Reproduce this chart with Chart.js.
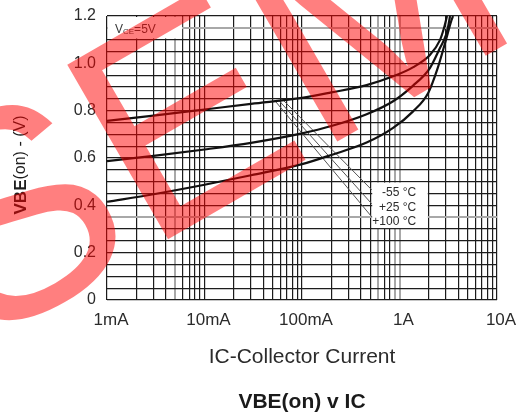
<!DOCTYPE html>
<html>
<head>
<meta charset="utf-8">
<script src="https://cdn.jsdelivr.net/npm/chart.js@4.4.1/dist/chart.umd.min.js"></script>
<style>
html,body{margin:0;padding:0;background:#fff;}
#wrap{width:518px;height:417px;position:relative;}
</style>
</head>
<body>
<div id="wrap"><canvas id="c"></canvas></div>
<script>
// Collector current (A) against base-emitter on-voltage (V), one pair per temperature
const currentsM55 = [0.001, 0.003, 0.01, 0.03, 0.1, 0.2, 0.46, 0.86, 1.37, 2.05, 2.6, 2.86, 3.07];
const vbeM55      = [0.757, 0.779, 0.805, 0.829, 0.854, 0.877, 0.908, 0.945, 0.983, 1.035, 1.098, 1.149, 1.2];
const currents25  = [0.001, 0.003, 0.01, 0.03, 0.1, 0.2, 0.46, 0.86, 1.37, 2.05, 2.6, 3.0, 3.17, 3.3];
const vbe25       = [0.587, 0.609, 0.636, 0.664, 0.704, 0.735, 0.785, 0.84, 0.905, 0.98, 1.065, 1.12, 1.16, 1.2];
const currents100 = [0.001, 0.003, 0.01, 0.03, 0.1, 0.2, 0.46, 0.86, 1.37, 1.97, 2.43, 2.93, 3.42, 3.54];
const vbe100      = [0.415, 0.447, 0.487, 0.527, 0.574, 0.613, 0.665, 0.727, 0.796, 0.875, 0.972, 1.085, 1.183, 1.2];

// Curve names and the leader lines running from the curves to their names
const seriesNames = ['-55 °C', '+25 °C', '+100 °C'];
const leaderStartI = [0.064, 0.058, 0.053];
const leaderStartV = [0.845, 0.843, 0.841];
const leaderEndI   = [0.52, 0.52, 0.52];
const leaderEndV   = [0.465, 0.406, 0.351];
const nameAnchorI  = 1.48;
const nameAnchorV  = [0.452, 0.391, 0.331];

// Axis ticks
const xTickValues = [0.001, 0.01, 0.1, 1, 10];
const xTickLabels = ['1mA', '10mA', '100mA', '1A', '10A'];
const yTickValues = [0, 0.2, 0.4, 0.6, 0.8, 1.0, 1.2];
const yTickLabels = ['0', '0.2', '0.4', '0.6', '0.8', '1.0', '1.2'];

// Grid: 1..9 per decade on the current axis, 0.05 V steps on the voltage axis
const xGrid = [];
for (let e = -3; e <= 0; e++) for (let m = 1; m <= 9; m++) xGrid.push(+(m * Math.pow(10, e)).toPrecision(6));
xGrid.push(10);
const yGrid = [];
for (let k = 0; k <= 24; k++) yGrid.push(+(k * 0.05).toFixed(2));
const xGridLight = [0.005, 0.6, 0.9, 1];
const yGridLight = [0.35, 1.15];

const FONT = '"Liberation Sans", Arial, Helvetica, sans-serif';
const near = (a, b) => Math.abs(a - b) < 1e-9 * Math.max(1, Math.abs(b));
const zip = (xs, ys) => xs.map((x, i) => ({ x, y: ys[i] }));

const curveStyle = {
  borderColor: '#111', borderWidth: 2.2, pointRadius: 0, fill: false,
  cubicInterpolationMode: 'monotone'
};
const leaderStyle = { borderColor: '#555', borderWidth: 1, pointRadius: 0, fill: false, tension: 0 };

const datasets = [
  Object.assign({ label: seriesNames[0], data: zip(currentsM55, vbeM55) }, curveStyle),
  Object.assign({ label: seriesNames[1], data: zip(currents25, vbe25) }, curveStyle),
  Object.assign({ label: seriesNames[2], data: zip(currents100, vbe100) }, curveStyle)
];
seriesNames.forEach((n, i) => {
  datasets.push(Object.assign({
    label: n + ' leader',
    data: [{ x: leaderStartI[i], y: leaderStartV[i] }, { x: leaderEndI[i], y: leaderEndV[i] }]
  }, leaderStyle));
});

const decorations = {
  id: 'decorations',
  beforeDatasetsDraw(chart) {
    const { ctx, chartArea: a, scales: { x, y } } = chart;
    ctx.save();
    ctx.fillStyle = '#fff';
    // clear area behind the test-condition note
    const r = x.getPixelForValue(0.0059);
    const b = y.getPixelForValue(1.105);
    ctx.fillRect(a.left + 1, a.top + 1, r - a.left - 1, b - a.top - 1);
    // clear area behind the curve names
    const l2 = x.getPixelForValue(0.525), r2 = x.getPixelForValue(1.95);
    const t2 = y.getPixelForValue(0.496), b2 = y.getPixelForValue(0.304);
    ctx.fillRect(l2, t2, r2 - l2, b2 - t2);
    ctx.restore();
  },
  afterDatasetsDraw(chart) {
    const { ctx, chartArea: a, scales: { x, y } } = chart;
    ctx.save();
    // test condition: VCE=5V
    ctx.fillStyle = '#3a3a3a';
    ctx.textBaseline = 'alphabetic';
    let px = a.left + 8;
    const base = a.top + 17;
    ctx.font = '12px ' + FONT;
    ctx.fillText('V', px, base); px += ctx.measureText('V').width;
    ctx.font = '8px ' + FONT;
    ctx.fillText('CE', px, base + 1); px += ctx.measureText('CE').width;
    ctx.font = '12px ' + FONT;
    ctx.fillText('=5V', px, base);
    // curve names
    ctx.fillStyle = '#2b2b2b';
    ctx.font = '12px ' + FONT;
    ctx.textAlign = 'right';
    ctx.textBaseline = 'middle';
    const nx = x.getPixelForValue(nameAnchorI);
    seriesNames.forEach((n, i) => ctx.fillText(n, nx, y.getPixelForValue(nameAnchorV[i])));
    ctx.restore();
  },
  afterDraw(chart) {
    const { ctx, chartArea: a } = chart;
    ctx.save();
    // vertical axis title: VBE(on) - (V)
    const boldPart = 'VBE', plainPart = '(on) - (V)';
    ctx.font = 'bold 17px ' + FONT;
    const w1 = ctx.measureText(boldPart).width;
    ctx.font = '16px ' + FONT;
    const w2 = ctx.measureText(plainPart).width;
    ctx.translate(21, (a.top + a.bottom) / 2 + 7);
    ctx.rotate(-Math.PI / 2);
    ctx.fillStyle = '#1e1e1e';
    ctx.textBaseline = 'middle';
    ctx.textAlign = 'left';
    const start = -(w1 + w2) / 2;
    ctx.font = 'bold 17px ' + FONT;
    ctx.fillText(boldPart, start, 0);
    ctx.font = '16px ' + FONT;
    ctx.fillText(plainPart, start + w1, 0);
    ctx.restore();

    // translucent red stamp across the sheet
    ctx.save();
    ctx.translate(-22, 349);
    ctx.rotate(-Math.PI / 6);
    ctx.font = '293px ' + FONT;
    ctx.fillStyle = 'rgba(255, 0, 0, 0.5)';
    ctx.textBaseline = 'alphabetic';
    ctx.textAlign = 'left';
    ctx.fillText('SEMI', 0, 0);
    ctx.restore();
  }
};

const gridColor = (light) => (ctx) => {
  const v = ctx.tick ? ctx.tick.value : null;
  return v !== null && light.some(g => near(v, g)) ? '#a8a8a8' : '#1c1c1c';
};
const gridWidth = (light) => (ctx) => {
  const v = ctx.tick ? ctx.tick.value : null;
  return v !== null && light.some(g => near(v, g)) ? 2 : 1.2;
};

new Chart(document.getElementById('c'), {
  type: 'line',
  data: { datasets },
  options: {
    responsive: true,
    maintainAspectRatio: false,
    animation: false,
    layout: { padding: { top: 16, right: 21, bottom: 0, left: 0 } },
    plugins: {
      legend: { display: false },
      tooltip: { enabled: false },
      title: {
        display: true, position: 'bottom', fullSize: false, text: 'VBE(on) v IC', color: '#1a1a1a',
        font: { family: FONT, size: 21, weight: 'bold', lineHeight: 1.2 },
        padding: { top: 9.4, bottom: 2.4 }
      }
    },
    scales: {
      x: {
        type: 'logarithmic', min: 0.001, max: 10,
        afterBuildTicks: (s) => { s.ticks = xGrid.map(v => ({ value: v })); },
        afterFit: (s) => { s.height = 80; s.paddingLeft = 0; s.paddingRight = 0; },
        ticks: {
          autoSkip: false, maxRotation: 0, minRotation: 0, padding: 10, labelOffset: 4, color: '#2b2b2b',
          font: { family: FONT, size: 17 },
          callback: (v) => { const i = xTickValues.findIndex(t => near(v, t)); return i >= 0 ? xTickLabels[i] : ''; }
        },
        grid: { drawTicks: false, color: gridColor(xGridLight), lineWidth: gridWidth(xGridLight) },
        border: { display: false },
        title: {
          display: true, text: 'IC-Collector Current', color: '#2b2b2b',
          font: { family: FONT, size: 21, lineHeight: 1.2 }, padding: { top: 0, bottom: 10.4 }
        }
      },
      y: {
        type: 'linear', min: 0, max: 1.2,
        afterBuildTicks: (s) => { s.ticks = yGrid.map(v => ({ value: v })); },
        afterFit: (s) => { s.width = 107; s.paddingTop = 0; s.paddingBottom = 0; },
        ticks: {
          autoSkip: false, padding: 11, color: '#2b2b2b',
          font: { family: FONT, size: 16 },
          callback: (v) => { const i = yTickValues.findIndex(t => near(v, t)); return i >= 0 ? yTickLabels[i] : ''; }
        },
        grid: { drawTicks: false, color: gridColor(yGridLight), lineWidth: gridWidth(yGridLight) },
        border: { display: false }
      }
    }
  },
  plugins: [decorations]
});
</script>
</body>
</html>
